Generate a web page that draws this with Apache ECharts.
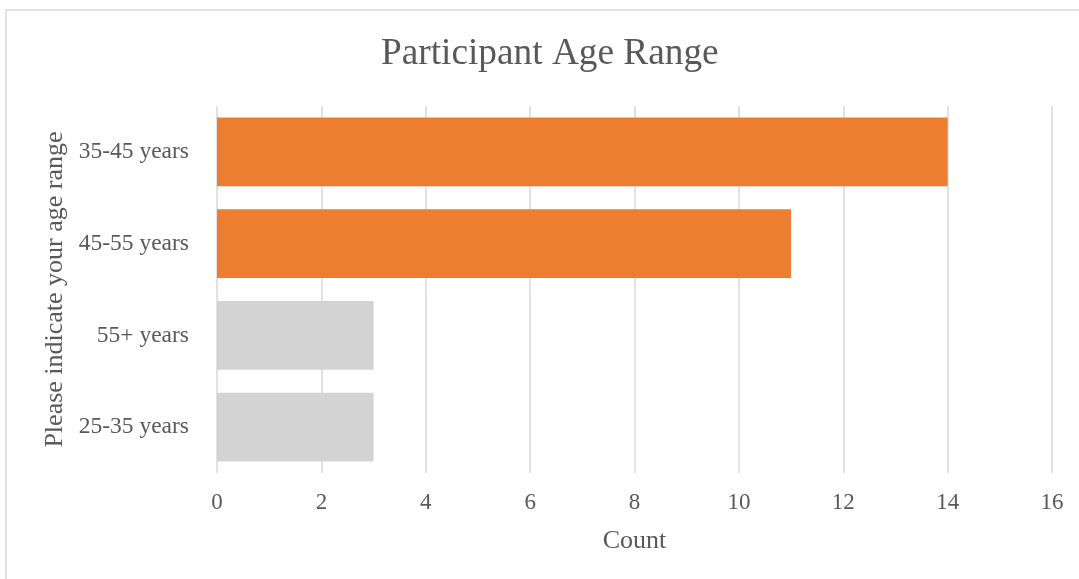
<!DOCTYPE html>
<html>
<head>
<meta charset="utf-8">
<script src="https://cdn.jsdelivr.net/npm/echarts@6/dist/echarts.min.js"></script>
<style>
  html, body { margin: 0; padding: 0; background: #fff; }
  #chart { width: 1079px; height: 579px; }
</style>
</head>
<body>
<div id="chart"></div>
<script>
// Age ranges, top to bottom
const categories = ['35-45 years', '45-55 years', '55+ years', '25-35 years'];
const counts = [14, 11, 3, 3];
const highlighted = [true, true, false, false];
const xTicks = { min: 0, max: 16, interval: 2 };

const ORANGE = '#ED7D31';
const GREY = '#D3D3D3';
const TEXT = '#595959';
const FONT = '"Liberation Serif", "Times New Roman", serif';

const chart = echarts.init(document.getElementById('chart'));
chart.setOption({
  animation: false,
  backgroundColor: '#fff',
  textStyle: { fontFamily: FONT, color: TEXT },
  graphic: [{
    type: 'rect',
    shape: { x: 6, y: 10, width: 1100, height: 600 },
    style: { fill: 'none', stroke: '#D9D9D9', lineWidth: 1.5 },
    silent: true, z: -1
  }],
  title: {
    text: 'Participant Age Range',
    left: 376, top: 31,
    textStyle: { fontFamily: FONT, fontSize: 37.3, fontWeight: 'normal', color: TEXT }
  },
  grid: { left: 217, right: 27, top: 106, bottom: 106, containLabel: false },
  xAxis: {
    type: 'value',
    min: xTicks.min, max: xTicks.max, interval: xTicks.interval,
    name: 'Count', nameLocation: 'middle', nameGap: 55,
    nameTextStyle: { fontFamily: FONT, fontSize: 26, color: TEXT },
    axisLine: { show: false },
    axisTick: { show: false },
    axisLabel: { fontFamily: FONT, fontSize: 23, color: TEXT, margin: 18 },
    splitLine: { show: true, lineStyle: { color: '#D9D9D9', width: 1.5 } }
  },
  yAxis: {
    type: 'category',
    data: categories,
    inverse: true,
    name: 'Please indicate your age range', nameLocation: 'middle', nameGap: 147,
    nameTextStyle: { fontFamily: FONT, fontSize: 26, color: TEXT },
    axisLine: { show: false },
    axisTick: { show: false },
    axisLabel: { fontFamily: FONT, fontSize: 23.5, color: TEXT, margin: 28 }
  },
  series: [{
    type: 'bar',
    barCategoryGap: '25%',
    data: counts.map((v, i) => ({ value: v, itemStyle: { color: highlighted[i] ? ORANGE : GREY } }))
  }]
});
</script>
</body>
</html>
